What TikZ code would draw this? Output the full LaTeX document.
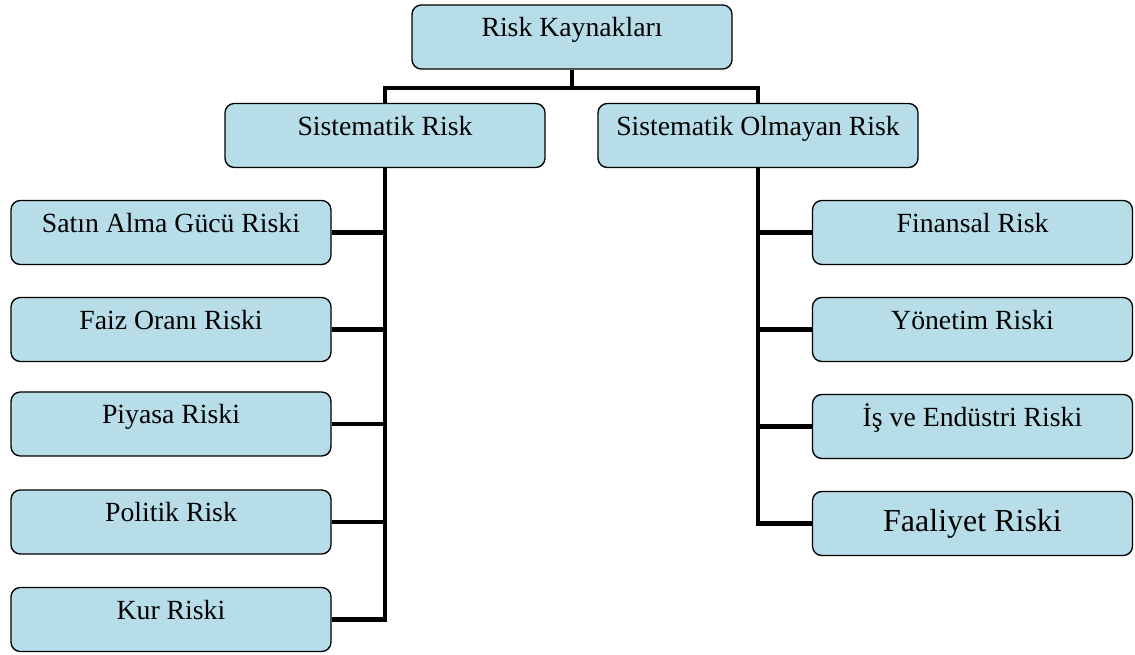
\documentclass[tikz,border=0pt]{standalone}
\usepackage{fontspec}
\setmainfont{Liberation Serif}
\definecolor{boxfill}{HTML}{B7DEE8}
\tikzset{
  boxbase/.style={draw, line width=1pt, rounded corners=7pt, fill=boxfill,
    minimum width=240pt, minimum height=48pt, inner sep=0pt},
  riskbox/.style={boxbase, font=\fontsize{20.8}{25}\selectfont,
    text height=14pt, text depth=14pt},
  bigbox/.style={boxbase, font=\fontsize{24}{28}\selectfont},
  link/.style={line width=3.4pt}
}

\begin{document}
\begin{tikzpicture}[x=0.75pt, y=-0.75pt]
\useasboundingbox (0,0) rectangle (1135,655);
% top level
\node[riskbox] (top) at (572,37) {Risk Kaynakları};
\node[riskbox] (sys) at (385,135.5) {Sistematik Risk};
\node[riskbox] (unsys) at (758,135.5) {Sistematik Olmayan Risk};
% left column
\node[riskbox] (l1) at (171,232.5) {Satın Alma Gücü Riski};
\node[riskbox] (l2) at (171,329.5) {Faiz Oranı Riski};
\node[riskbox] (l3) at (171,424) {Piyasa Riski};
\node[riskbox] (l4) at (171,522) {Politik Risk};
\node[riskbox] (l5) at (171,619.5) {Kur Riski};
% right column
\node[riskbox] (r1) at (972.5,232.5) {Finansal Risk};
\node[riskbox] (r2) at (972.5,329.5) {Yönetim Riski};
\node[riskbox] (r3) at (972.5,426.5) {İş ve Endüstri Riski};
\node[bigbox] (r4) at (972.5,523.5) {Faaliyet Riski};
% connectors
\coordinate (split) at (572,88);
\draw[link] (top.south) -- (split);
\draw[link] (sys.north) |- (split) -| (unsys.north);
\draw[link] (sys.south) |- (l5.east);
\foreach \n in {l1,l2,l3,l4}
  \draw[link] (sys.south |- \n.east) -- (\n.east);
\draw[link] (unsys.south) |- (r4.west);
\foreach \n in {r1,r2,r3}
  \draw[link] (unsys.south |- \n.west) -- (\n.west);
\end{tikzpicture}
\end{document}
